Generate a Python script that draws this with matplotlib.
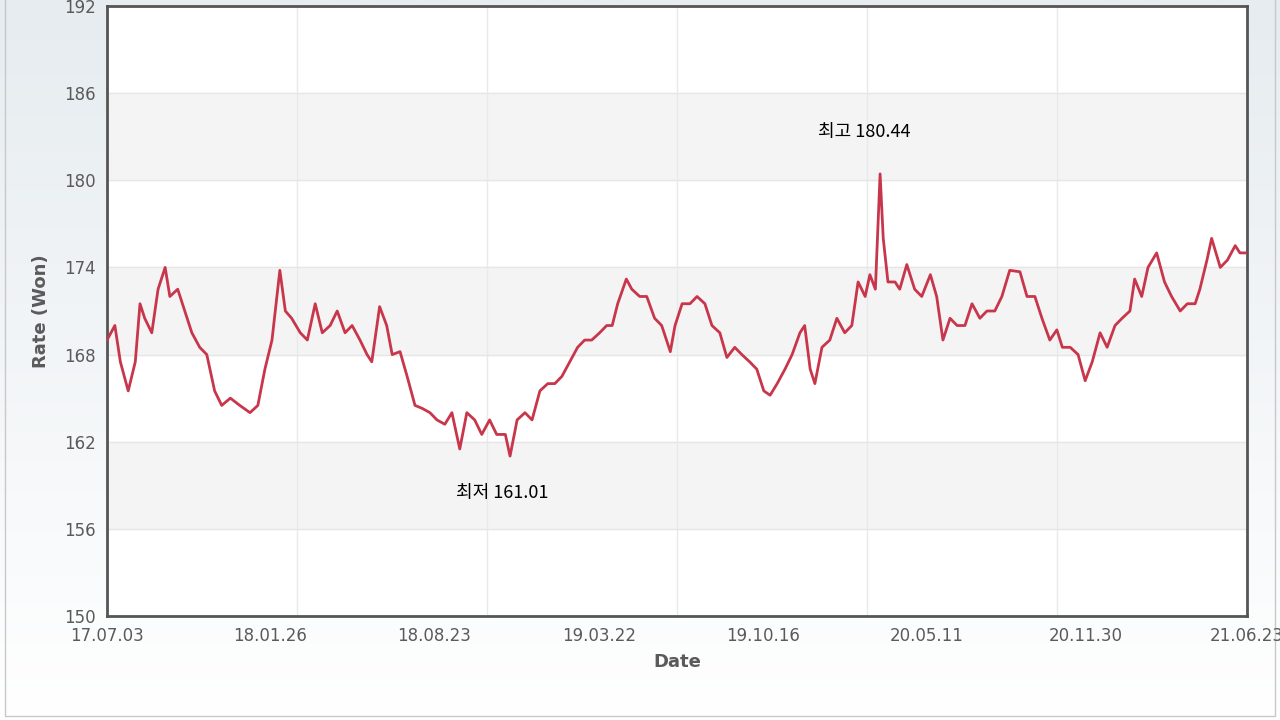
import numpy as np
import pandas as pd
import matplotlib
matplotlib.use("Agg")
import matplotlib.pyplot as plt
from matplotlib.patches import Rectangle

START = "2017-07-03"
# (day offset from START, rate in won)
POINTS = [
    (0, 169), (10, 170), (17, 167.5), (27, 165.5), (36, 167.5), (42, 171.5), (48, 170.5),
    (57, 169.5), (65, 172.5), (74, 174), (80, 172), (90, 172.5), (99, 171), (108, 169.5),
    (118, 168.5), (127, 168), (137, 165.5), (146, 164.5), (157, 165), (169, 164.5),
    (182, 164), (192, 164.5), (201, 167), (210, 169), (220, 173.8), (227, 171),
    (235, 170.5), (246, 169.5), (255, 169), (265, 171.5), (274, 169.5), (284, 170),
    (293, 171), (303, 169.5), (312, 170), (322, 169), (331, 168), (337, 167.5),
    (347, 171.3), (356, 170), (363, 168), (373, 168.2), (382, 166.5), (392, 164.5),
    (401, 164.3), (411, 164), (420, 163.5), (430, 163.2), (439, 164), (449, 161.5),
    (458, 164), (468, 163.5), (477, 162.5), (487, 163.5), (496, 162.5), (507, 162.5),
    (513, 161.01), (522, 163.5), (532, 164), (541, 163.5), (551, 165.5), (561, 166),
    (570, 166), (579, 166.5), (589, 167.5), (599, 168.5), (608, 169), (617, 169),
    (627, 169.5), (636, 170), (643, 170), (650, 171.5), (661, 173.2), (668, 172.5),
    (678, 172), (687, 172), (697, 170.5), (706, 170), (717, 168.2), (723, 170),
    (732, 171.5), (742, 171.5), (751, 172), (761, 171.5), (770, 170), (780, 169.5),
    (789, 167.8), (799, 168.5), (808, 168), (818, 167.5), (827, 167), (836, 165.5),
    (844, 165.2), (853, 166), (863, 167), (872, 168), (882, 169.5), (888, 170),
    (895, 167), (901, 166), (910, 168.5), (920, 169), (929, 170.5), (939, 169.5),
    (948, 170), (956, 173), (965, 172), (971, 173.5), (978, 172.5), (984, 180.44),
    (988, 176), (994, 173), (1003, 173), (1009, 172.5), (1018, 174.2), (1028, 172.5),
    (1037, 172), (1048, 173.5), (1056, 172), (1064, 169), (1073, 170.5), (1082, 170),
    (1092, 170), (1101, 171.5), (1111, 170.5), (1120, 171), (1130, 171), (1139, 172),
    (1149, 173.8), (1162, 173.7), (1171, 172), (1181, 172), (1190, 170.5), (1200, 169),
    (1209, 169.7), (1216, 168.5), (1226, 168.5), (1236, 168), (1245, 166.2),
    (1254, 167.5), (1264, 169.5), (1273, 168.5), (1283, 170), (1292, 170.5),
    (1302, 171), (1308, 173.2), (1317, 172), (1325, 174), (1336, 175), (1346, 173),
    (1355, 172), (1366, 171), (1375, 171.5), (1385, 171.5), (1391, 172.5),
    (1400, 174.5), (1406, 176), (1417, 174), (1426, 174.5), (1436, 175.5),
    (1442, 175), (1451, 175),
]
DAYS = [p[0] for p in POINTS]
RATES = [p[1] for p in POINTS]
TICK_DATES = ["2017-07-03", "2018-01-26", "2018-08-23", "2019-03-22",
              "2019-10-16", "2020-05-11", "2020-11-30", "2021-06-23"]
HIGH_LABEL = "최고 180.44"
LOW_LABEL = "최저 161.01"

dates = pd.Timestamp(START) + pd.to_timedelta(DAYS, unit="D")
ticks = pd.to_datetime(TICK_DATES)

plt.rcParams["font.family"] = ["DejaVu Sans"]
fig = plt.figure(figsize=(12.8, 7.2), dpi=100)

# gradient background
bg = fig.add_axes([0, 0, 1, 1], zorder=-10)
grad = np.linspace(0, 1, 256).reshape(-1, 1)
bg.imshow(grad, aspect="auto", extent=[0, 1, 0, 1], origin="upper",
          cmap=matplotlib.colors.LinearSegmentedColormap.from_list("g", ["#e6ecf0", "#ffffff"]))
bg.add_patch(Rectangle((0.004, 0.006), 0.992, 1.1, fill=False, edgecolor="#c8c8c8", lw=1))
bg.set_xlim(0, 1)
bg.set_ylim(0, 1)
bg.axis("off")

ax = fig.add_axes([107 / 1280, 104 / 720, 1140 / 1280, 610 / 720])
ax.set_facecolor("white")
for lo in (156, 168, 180):
    ax.axhspan(lo, lo + 6, color="#f4f4f4", zorder=0)
ax.set_ylim(150, 192)
ax.set_xlim(ticks[0], ticks[-1])
ax.set_yticks(range(150, 193, 6))
ax.set_xticks(ticks)
ax.set_xticklabels([d.strftime("%y.%m.%d") for d in ticks])
ax.grid(True, axis="y", color="#e6e6e6", lw=1, zorder=0)
# vertical grid lines are evenly spaced, independent of the labels
for frac in np.arange(1, 6) / 6:
    ax.axvline(frac, color="#e6eaec", lw=1, zorder=0, transform=ax.get_xaxis_transform()) if False else \
        ax.plot([frac, frac], [0, 1], transform=ax.transAxes, color="#e6eaec", lw=1, zorder=0)
ax.set_axisbelow(True)
for s in ax.spines.values():
    s.set_color("#555555")
    s.set_linewidth(2)
ax.tick_params(colors="#666666", labelsize=12, length=0, pad=8)
for lab in ax.get_xticklabels() + ax.get_yticklabels():
    lab.set_color("#5a5a5a")

ax.plot(dates, RATES, color="#c8364b", lw=2, zorder=3)

hi = int(np.argmax(RATES))
lo = int(np.argmin(RATES))
ax.text(dates[hi] - pd.Timedelta(days=20), 183.3, HIGH_LABEL, ha="center", va="center",
        fontsize=13, family=["Noto Sans CJK KR", "DejaVu Sans"], color="black")
ax.text(dates[lo] - pd.Timedelta(days=10), 158.5, LOW_LABEL, ha="center", va="center",
        fontsize=13, family=["Noto Sans CJK KR", "DejaVu Sans"], color="black")

ax.set_xlabel("Date", fontsize=13, fontweight="bold", color="#5a5a5a", labelpad=6)
ax.set_ylabel("Rate (Won)", fontsize=13, fontweight="bold", color="#5a5a5a", labelpad=10)

fig.savefig("out.png", dpi=100)
